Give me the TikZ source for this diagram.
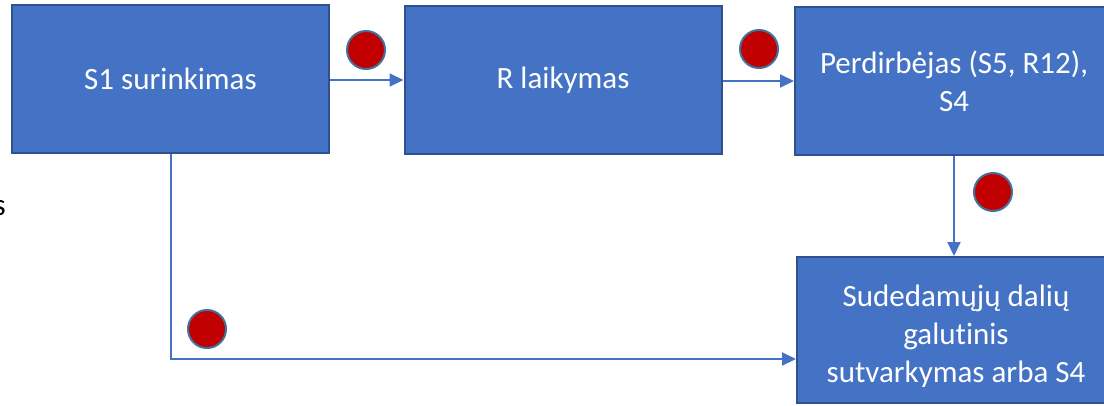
\documentclass[tikz,border=0pt]{standalone}
\usepackage{fontspec}
\setmainfont{Carlito}[Ligatures=NoCommon]
\usetikzlibrary{arrows.meta}
\definecolor{boxfill}{HTML}{4472C4}
\definecolor{boxline}{HTML}{2F528F}
\definecolor{dotred}{HTML}{C00000}
\definecolor{dotline}{HTML}{41719C}
\tikzset{
  procbox/.style={draw=boxline, line width=2pt, fill=boxfill, text=white, align=center,
    font=\fontsize{31}{38}\selectfont, inner sep=0pt},
  flow/.style={draw=boxfill, line width=2pt, -{Triangle[length=14pt,width=13pt]}},
  dot/.style={circle, draw=dotline, line width=2pt, fill=dotred, minimum size=38pt, inner sep=0pt},
}
\begin{document}
\begin{tikzpicture}[x=1pt,y=-1pt]
\useasboundingbox (0,0) rectangle (1104,405);
\node[procbox, minimum width=317pt, minimum height=148pt] (b1) at (170.5,79) {S1 surinkimas};
\node[procbox, minimum width=317pt, minimum height=148pt] (b2) at (563,80) {R laikymas};
\node[procbox, minimum width=318pt, minimum height=148pt] (b3) at (954,81) {Perdirbėjas (S5, R12),\\S4};
\node[procbox, minimum width=318pt, minimum height=146pt] (b4) at (956,330) {\rule{0pt}{33pt}Sudedamųjų dalių\\galutinis\\sutvarkymas arba S4};
\node[anchor=east, inner sep=0pt, font=\fontsize{31}{38}\selectfont] (s) at (6,208) {s};
\coordinate (corner) at (171,359);
\draw[flow] (b1.east |- 0,80) -- (b2.west |- 0,80);
\draw[flow] (b2.east |- 0,81) -- (b3.west |- 0,81);
\draw[flow] (b3.south -| 954,0) -- (b4.north -| 954,0);
\draw[flow] (b1.south -| corner) -- (corner) -- (b4.west |- corner);
\node[dot] (d1) at (366,50) {};
\node[dot] (d2) at (759,49) {};
\node[dot] (d3) at (993,192) {};
\node[dot] (d4) at (207,329) {};
\end{tikzpicture}
\end{document}
